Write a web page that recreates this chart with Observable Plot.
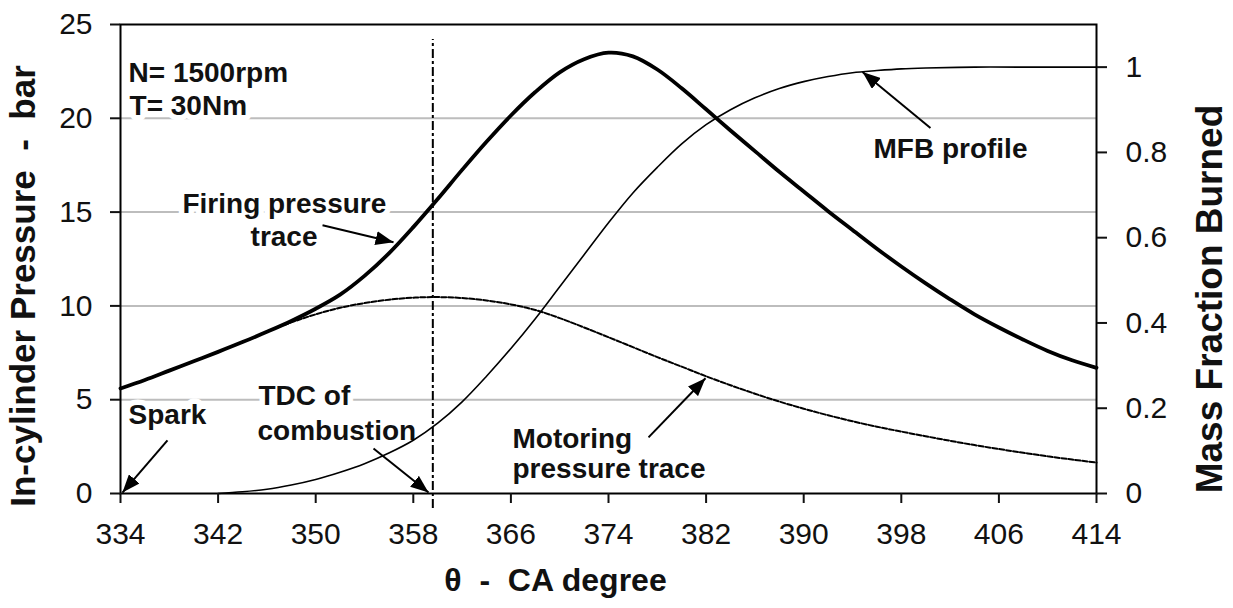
<!DOCTYPE html>
<html>
<head>
<meta charset="utf-8">
<script src="https://cdn.jsdelivr.net/npm/d3@7"></script>
<script src="https://cdn.jsdelivr.net/npm/@observablehq/plot@0.6"></script>
<style>
  html, body { margin: 0; padding: 0; background: #fff; }
  #chart svg { display: block; }
</style>
</head>
<body>
<div id="chart"></div>
<script>
// ---- data ----
const crankAngle = [334,336,338,340,342,344,346,348,350,352,354,356,358,360,362,364,366,368,370,372,374,376,378,380,382,384,386,388,390,392,394,396,398,400,402,404,406,408,410,412,414];
const firingPressure = [5.6,6.05,6.55,7.05,7.55,8.07,8.62,9.2,9.85,10.6,11.6,12.8,14.2,15.7,17.25,18.75,20.15,21.4,22.45,23.15,23.5,23.3,22.6,21.6,20.48,19.35,18.25,17.15,16.1,15.05,14.05,13.05,12.1,11.2,10.35,9.55,8.85,8.2,7.6,7.1,6.7];
const motoringPressure = [5.6,6.05,6.55,7.05,7.55,8.07,8.62,9.12,9.55,9.9,10.15,10.33,10.44,10.47,10.42,10.29,10.08,9.78,9.35,8.85,8.33,7.8,7.27,6.76,6.25,5.77,5.32,4.9,4.52,4.17,3.85,3.56,3.3,3.05,2.81,2.58,2.37,2.17,1.98,1.81,1.65];
const mfbAngle = [342,344,346,348,350,352,354,356,358,360,362,364,366,368,370,372,374,376,378,380,382,384,386,388,390,392,394,396,398,400,404,408,414];
const massFractionBurned = [0,0.004,0.01,0.02,0.033,0.05,0.07,0.095,0.125,0.165,0.215,0.275,0.34,0.41,0.485,0.56,0.635,0.705,0.765,0.82,0.865,0.9,0.928,0.95,0.966,0.978,0.987,0.992,0.996,0.998,1.0,1.0,1.0];

const xTicks = [334,342,350,358,366,374,382,390,398,406,414];
const pressureTicks = [0,5,10,15,20,25];
const gridPressure = [5,10,15,20];
const mfbTicks = [0,0.2,0.4,0.6,0.8,1];
const tdcAngle = 359.6;
const pressureMax = 25;
const mfbAxisMax = 1.1;

const xTitle = "θ  -  CA degree";
const yTitle = "In-cylinder Pressure  -  bar";
const y2Title = "Mass Fraction Burned";

const noteText = ["N= 1500rpm","T= 30Nm","Firing pressure","trace","Spark","TDC of","combustion","Motoring","pressure trace","MFB profile"];
const noteAngle = [334.66,334.74,339.08,344.66,334.66,345.31,345.23,366.13,366.13,395.72];
const notePressure = [22.41,20.65,15.42,13.66,4.16,5.18,3.31,2.88,1.33,18.36];

const arrowFromAngle = [337.85,354.74,350.56,377.28,400.39];
const arrowFromPressure = [2.83,2.40,14.30,2.99,19.48];
const arrowToAngle = [334.16,359.25,356.38,381.95,394.82];
const arrowToPressure = [0.05,0.05,13.39,6.14,22.47];

// ---- tables built from the arrays ----
const k = pressureMax / mfbAxisMax; // MFB -> shared y scale
const pressureRows = crankAngle.map((a, i) => ({angle: a, firing: firingPressure[i], motoring: motoringPressure[i]}));
const mfbRows = mfbAngle.map((a, i) => ({angle: a, mfb: massFractionBurned[i]}));
const notes = noteText.map((t, i) => ({text: t, angle: noteAngle[i], p: notePressure[i]}));
const arrows = arrowFromAngle.map((a, i) => ({x1: a, y1: arrowFromPressure[i], x2: arrowToAngle[i], y2: arrowToPressure[i]}));

const FONT = "'Liberation Sans', Arial, sans-serif";

function filledHead(color, context) {
  const doc = (context && context.document) || document;
  const ns = "http://www.w3.org/2000/svg";
  const m = doc.createElementNS(ns, "marker");
  m.setAttribute("viewBox", "-18 -7 18 14");
  m.setAttribute("markerWidth", 18);
  m.setAttribute("markerHeight", 14);
  m.setAttribute("markerUnits", "userSpaceOnUse");
  m.setAttribute("refX", 0);
  m.setAttribute("refY", 0);
  m.setAttribute("orient", "auto");
  const p = doc.createElementNS(ns, "path");
  p.setAttribute("d", "M-18,-7L0,0L-18,7Z");
  p.setAttribute("fill", color || "black");
  p.setAttribute("stroke", "none");
  m.appendChild(p);
  return m;
}

function build(useCustomMarker) {
  const arrowMark = useCustomMarker
    ? Plot.link(arrows, {x1: "x1", y1: "y1", x2: "x2", y2: "y2", stroke: "black", strokeWidth: 2, markerEnd: filledHead})
    : Plot.arrow(arrows, {x1: "x1", y1: "y1", x2: "x2", y2: "y2", stroke: "black", strokeWidth: 2, headLength: 16, headAngle: 45});
  return Plot.plot({
    width: 1233,
    height: 608,
    marginLeft: 120,
    marginRight: 137,
    marginTop: 24,
    marginBottom: 115,
    style: {fontFamily: FONT, fontSize: "30px", color: "black", background: "white"},
    x: {domain: [334, 414]},
    y: {domain: [0, pressureMax]},
    marks: [
      Plot.ruleY(gridPressure, {stroke: "#bdbdbd", strokeWidth: 2}),
      Plot.text(notes, {x: "angle", y: "p", text: "text", textAnchor: "start", lineAnchor: "middle",
        fontSize: 28, fontWeight: "bold", fill: "#111", stroke: "white", strokeWidth: 11, fontFamily: FONT}),
      Plot.ruleX([tdcAngle], {y1: -0.8, y2: 24.2, stroke: "black", strokeWidth: 2, strokeDasharray: "9,3,3,3"}),
      Plot.line(pressureRows, {x: "angle", y: "motoring", stroke: "black", strokeWidth: 2, strokeDasharray: "5,2", curve: "catmull-rom"}),
      Plot.line(mfbRows, {x: "angle", y: d => d.mfb * k, stroke: "black", strokeWidth: 1.6, curve: "catmull-rom"}),
      Plot.line(pressureRows, {x: "angle", y: "firing", stroke: "black", strokeWidth: 3.8, curve: "catmull-rom"}),
      arrowMark,
      Plot.frame({stroke: "black", strokeWidth: 2}),
      Plot.axisX(xTicks, {tickSize: 10, tickPadding: 19, strokeWidth: 2, label: null, color: "#111", fontSize: 30}),
      Plot.axisY(pressureTicks, {anchor: "left", tickSize: 10, tickPadding: 18, strokeWidth: 2, label: null, color: "#111", fontSize: 30}),
      Plot.axisY(mfbTicks.map(m => m * k), {anchor: "right", tickSize: 10, tickPadding: 19, strokeWidth: 2, label: null, color: "#111", fontSize: 30,
        tickFormat: d => String(+(d / k).toFixed(1))}),
      Plot.text([xTitle], {frameAnchor: "bottom", text: d => d, textAnchor: "middle", dx: -53, dy: 87, lineAnchor: "middle",
        fontSize: 32, fontWeight: "bold", fill: "#111", fontFamily: FONT}),
      Plot.text([yTitle], {frameAnchor: "left", text: d => d, textAnchor: "middle", rotate: -90, dx: -97, dy: 27, lineAnchor: "middle",
        fontSize: 35, fontWeight: "bold", fill: "#111", fontFamily: FONT}),
      Plot.text([y2Title], {frameAnchor: "right", text: d => d, textAnchor: "middle", rotate: -90, dx: 114, dy: 40, lineAnchor: "middle",
        fontSize: 37, fontWeight: "bold", fill: "#111", fontFamily: FONT})
    ]
  });
}

let chart;
try { chart = build(true); } catch (e) { chart = build(false); }
document.getElementById("chart").append(chart);
</script>
</body>
</html>
